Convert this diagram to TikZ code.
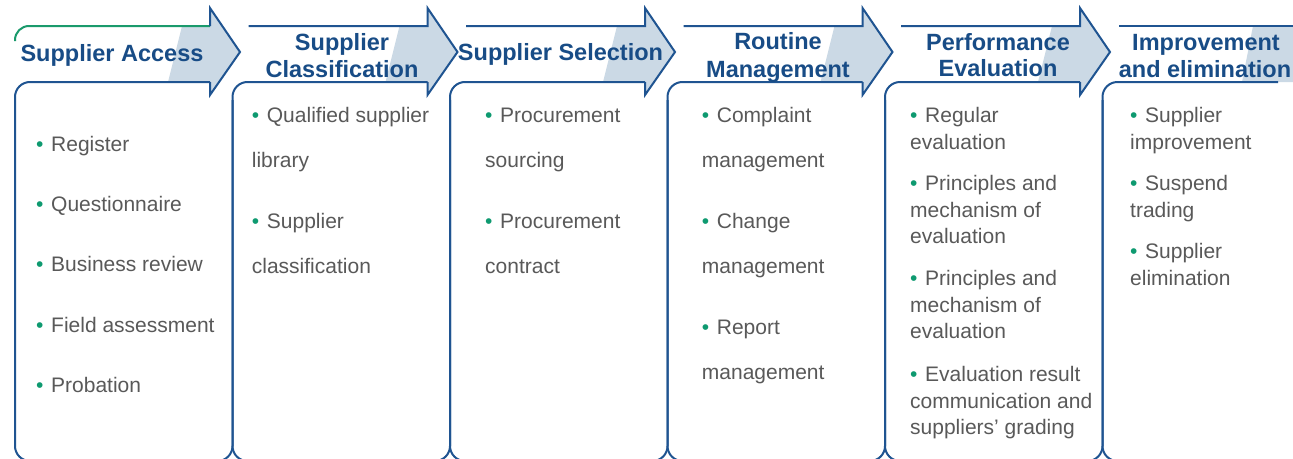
\documentclass[tikz,border=0pt]{standalone}
\usepackage{fontspec}
\setmainfont{Liberation Sans}
\definecolor{dblue}{HTML}{1F5491}
\definecolor{hblue}{HTML}{184C86}
\definecolor{lblue}{HTML}{CBD9E5}
\definecolor{tgray}{HTML}{595959}
\definecolor{bgreen}{HTML}{0E9A70}
\definecolor{lgreen}{HTML}{1A9A6C}
\newcommand\mybul{\makebox[15pt][l]{\textcolor{bgreen}{•}}}
\begin{document}
\begin{tikzpicture}[x=1pt,y=-1pt,
  hdr/.style={font=\fontsize{23.5}{27}\selectfont\bfseries, text=hblue, anchor=base, inner sep=0pt},
  body/.style={font=\fontsize{21}{25}\selectfont, text=tgray, anchor=base west, inner sep=0pt},
  outline/.style={draw=dblue, line width=2pt, line join=miter},
  shadefill/.style={fill=lblue, draw=none}]
\useasboundingbox (0,0) rectangle (1293,458);
\clip (0,0) rectangle (1293,458);
\fill[white] (0,0) rectangle (1293,458);
% shaded arrow parts
\foreach \B in {210,427.5,645,862.5,1080}{
  \path[shadefill] ({\B-28},26) -- (\B,26) -- (\B,8) -- ({\B+30},52) -- (\B,95) -- (\B,82) -- ({\B-42},82) -- cycle;
}
\path[shadefill] (1253,26) -- (1300,26) -- (1300,82) -- (1242,82) -- cycle;
% boxes
\foreach \L/\B in {15/210, 232.5/427.5, 450/645, 667.5/862.5, 885/1080}{
  \draw[outline, rounded corners=15] (\B,82) -- (\L,82) -- (\L,461) -- ({\L+217.5},461) -- ({\L+217.5},100);
}
\draw[outline, rounded corners=15] (1278,82) -- (1102.5,82) -- (1102.5,461) -- (1320,461);
% arrow outlines
\draw[draw=lgreen, line width=2pt, rounded corners=14] (15,41) -- (15,26) -- (210,26);
\draw[outline] (210,26) -- (210,8) -- (240,52) -- (210,95) -- (210,82);
\foreach \L/\B in {232.5/427.5, 450/645, 667.5/862.5, 885/1080}{
  \draw[outline] ({\L+16},26) -- (\B,26) -- (\B,8) -- ({\B+30},52) -- (\B,95) -- (\B,82);
}
\draw[outline] (1119,26) -- (1300,26);
% headers
\node[hdr] (h1) at (112,61) {Supplier Access};
\node[hdr] (h2a) at (342,50) {Supplier};
\node[hdr] (h2b) at (342,77) {Classification};
\node[hdr] (h3) at (560.5,60) {Supplier Selection};
\node[hdr] (h4a) at (778,49.5) {Routine};
\node[hdr] (h4b) at (778,77) {Management};
\node[hdr] (h5a) at (998,50) {Performance};
\node[hdr] (h5b) at (998,76.5) {Evaluation};
\node[hdr] (h6a) at (1206,50) {Improvement};
\node[hdr] (h6b) at (1205,77) {and elimination};
% column 1
\node[body] (c1a) at (36,151) {\mybul Register};
\node[body] (c1b) at (36,211.3) {\mybul Questionnaire};
\node[body] (c1c) at (36,271.6) {\mybul Business review};
\node[body] (c1d) at (36,332) {\mybul Field assessment};
\node[body] (c1e) at (36,392.3) {\mybul Probation};
% column 2
\node[body] (c2a) at (251.7,122) {\mybul Qualified supplier};
\node[body] (c2b) at (251.7,167.5) {library};
\node[body] (c2c) at (251.7,228) {\mybul Supplier};
\node[body] (c2d) at (251.7,273.5) {classification};
% column 3
\node[body] (c3a) at (485,122) {\mybul Procurement};
\node[body] (c3b) at (485,167.5) {sourcing};
\node[body] (c3c) at (485,228) {\mybul Procurement};
\node[body] (c3d) at (485,273.5) {contract};
% column 4
\node[body] (c4a) at (701.7,122) {\mybul Complaint};
\node[body] (c4b) at (701.7,167.5) {management};
\node[body] (c4c) at (701.7,228) {\mybul Change};
\node[body] (c4d) at (701.7,273.5) {management};
\node[body] (c4e) at (701.7,334) {\mybul Report};
\node[body] (c4f) at (701.7,379.5) {management};
% column 5
\node[body] (c5a) at (910,122.3) {\mybul Regular};
\node[body] (c5b) at (910,149) {evaluation};
\node[body] (c5c) at (910,190.5) {\mybul Principles and};
\node[body] (c5d) at (910,217.2) {mechanism of};
\node[body] (c5e) at (910,243.9) {evaluation};
\node[body] (c5f) at (910,285.3) {\mybul Principles and};
\node[body] (c5g) at (910,312) {mechanism of};
\node[body] (c5h) at (910,338.7) {evaluation};
\node[body] (c5i) at (910,381.5) {\mybul Evaluation result};
\node[body] (c5j) at (910,408.2) {communication and};
\node[body] (c5k) at (910,434.9) {suppliers’ grading};
% column 6
\node[body] (c6a) at (1130,122.3) {\mybul Supplier};
\node[body] (c6b) at (1130,149) {improvement};
\node[body] (c6c) at (1130,190.5) {\mybul Suspend};
\node[body] (c6d) at (1130,217.2) {trading};
\node[body] (c6e) at (1130,258.6) {\mybul Supplier};
\node[body] (c6f) at (1130,285.3) {elimination};
\end{tikzpicture}
\end{document}
